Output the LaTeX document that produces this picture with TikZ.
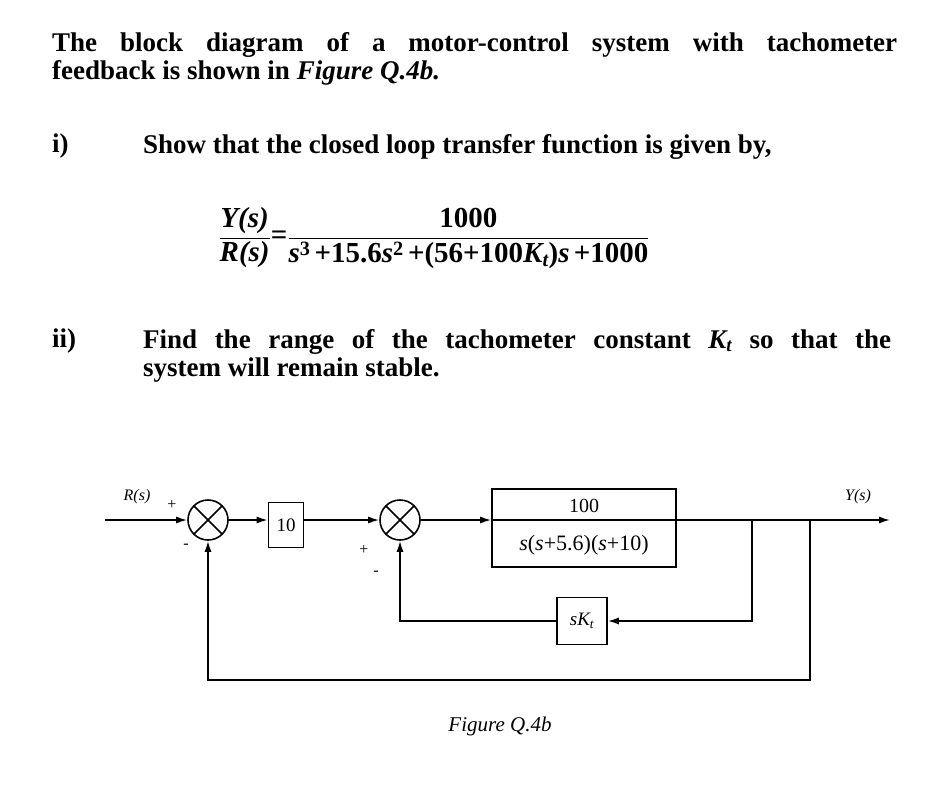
\documentclass[tikz,border=0pt]{standalone}
\usepackage{amsmath}
\usepackage{fontspec}
\setmainfont{Liberation Serif}
\usepackage{tikz}
\usetikzlibrary{arrows.meta,positioning}
\newcommand{\bi}[1]{\text{\bfseries\itshape #1}}
\newcommand{\bt}[1]{\text{\bfseries #1}}
\tikzset{
  sumnode/.style={draw,circle,line width=1.6pt,minimum size=40pt,inner sep=0pt,path picture={
      \draw[line width=1.6pt] (path picture bounding box.north west)--(path picture bounding box.south east)
      (path picture bounding box.north east)--(path picture bounding box.south west);}},
  blk/.style={draw,line width=1.6pt,inner sep=0pt},
  sig/.style={line width=1.6pt,-{Latex[length=11pt,width=7pt]}},
  lbl/.style={font=\fontsize{16}{18}\selectfont\itshape},
  sgn/.style={font=\fontsize{16}{18}\selectfont},
  txt/.style={anchor=north west,inner sep=0pt,align=justify,font=\fontsize{27}{28}\selectfont\bfseries}
}
\begin{document}
\begin{tikzpicture}[x=1pt,y=-1pt]
  \useasboundingbox[fill=white] (0,0) rectangle (941,787);
  % question text
  \node[txt,text width=845pt] (intro) at (52,32) {The block diagram of a motor-control system with tachometer\linebreak feedback is shown in \textit{Figure Q.4b.}};
  \node[txt] (qi) at (52,134) {i)};
  \node[txt] (qitext) at (143,134) {Show that the closed loop transfer function is given by,};
  \node[font=\fontsize{29}{30}\selectfont] (tf) at (434,238)
    {$\displaystyle \frac{\bi{Y(s)}}{\bi{R(s)}}\bt{=}\frac{\bt{1000}}{\bi{s}^{\bt{3}}\,\bt{+15.6}\bi{s}^{\bt{2}}\,\bt{+(56+100}\bi{K}_{\bi{t}}\bt{)}\bi{s}\,\bt{+1000}}$};
  \node[txt] (qii) at (52,329) {ii)};
  \node[txt,text width=748pt] (qiitext) at (143,329) {Find the range of the tachometer constant \textit{K\textsubscript{t}} so that the\linebreak system will remain stable.};
  % block diagram
  \coordinate (in) at (105,520);
  \node[sumnode] (s1) at (208,520) {};
  \node[blk,minimum width=35pt,minimum height=45pt,font=\fontsize{19}{21}\selectfont] (k) at (286,525) {10};
  \node[sumnode] (s2) at (400,520) {};
  \node[blk,minimum width=184pt,minimum height=78pt] (g) at (584,528) {};
  \draw[line width=1.6pt] (g.west |- 0,520) -- (g.east |- 0,520);
  \node[font=\fontsize{20}{22}\selectfont] (gnum) at (584,506) {100};
  \node[font=\fontsize{22}{24}\selectfont] (gden) at (584,545) {\textit{s}(\textit{s}+5.6)(\textit{s}+10)};
  \node[blk,minimum width=50pt,minimum height=47pt,font=\fontsize{19}{21}\selectfont] (h) at (582,621) {\textit{sK\textsubscript{t}}};
  \coordinate (out) at (890,520);
  \coordinate (b1) at (752,520);
  \coordinate (b2) at (810,520);
  \coordinate (c1) at (810,680);
  \coordinate (c2) at (208,680);
  \draw[sig] (in) -- (s1);
  \draw[sig] (s1) -- (k.west |- s1);
  \draw[sig] (k.east |- s2) -- (s2);
  \draw[sig] (s2) -- (g.west |- s2);
  \draw[sig] (g.east |- s2) -- (out);
  \draw[sig] (b1) |- (h.east);
  \draw[sig] (h.west) -| (s2.south);
  \draw[sig] (b2) -- (c1) -- (c2) -- (s1.south);
  \node[lbl] (rl) at (137,497) {R(s)};
  \node[sgn] (p1) at (172,505) {+};
  \node[sgn] (m1) at (186,546) {-};
  \node[sgn] (p2) at (364,550) {+};
  \node[sgn] (m2) at (376,573) {-};
  \node[lbl] (yl) at (858,497) {Y(s)};
  \node[font=\fontsize{21}{24}\selectfont\itshape] (cap) at (500,726) {Figure Q.4b};
\end{tikzpicture}
\end{document}
